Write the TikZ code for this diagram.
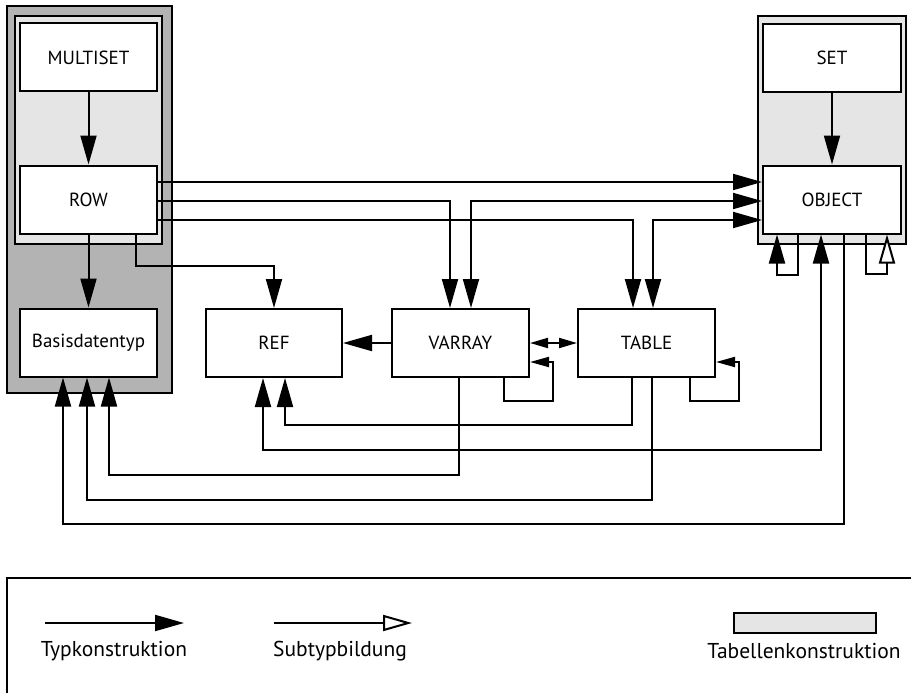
\documentclass[tikz,border=0pt]{standalone}
\usepackage{fontspec}
\setmainfont{PT Sans}
\usetikzlibrary{arrows.meta}

\definecolor{paneldark}{HTML}{B3B3B3}
\definecolor{panellight}{HTML}{E5E5E5}

\tikzset{
  typebox/.style={draw, fill=white, line width=2pt, minimum width=137pt,
    minimum height=68pt, inner sep=0pt, font=\fontsize{19}{22}\selectfont},
  panel/.style={draw, line width=2.4pt},
  conn/.style={line width=2pt},
  big/.style={conn, -{Triangle[length=29pt,width=16pt]}},
  bigboth/.style={conn, {Triangle[length=29pt,width=16pt]}-{Triangle[length=29pt,width=16pt]}},
  small/.style={conn, -{Triangle[length=19pt,width=10pt]}},
  smallboth/.style={conn, {Triangle[length=18pt,width=10pt]}-{Triangle[length=18pt,width=10pt]}},
  hollow/.style={conn, -{Triangle[length=29pt,width=16pt,fill=white]}},
  legendtext/.style={font=\fontsize{21.5}{24}\selectfont, inner sep=0pt}
}

\begin{document}
\begin{tikzpicture}[x=1pt, y=-1pt]
  \useasboundingbox (0,0) rectangle (911,693);

  % table construction panels
  \draw[panel, fill=paneldark] (7,6) rectangle (172,393);
  \draw[panel, fill=panellight] (15,16) rectangle (162,244);
  \draw[panel, fill=panellight] (758,16) rectangle (906,244);

  % type boxes
  \node[typebox] (multiset) at (88.5,57.5)  {MULTISET};
  \node[typebox] (row)      at (88.5,199.5) {ROW};
  \node[typebox] (basis)    at (88.5,342.5) {Basisdatentyp};
  \node[typebox, minimum width=136pt] (ref) at (274,343) {REF};
  \node[typebox] (varray)   at (460.5,343)  {VARRAY};
  \node[typebox] (table)    at (646.5,343)  {TABLE};
  \node[typebox, minimum width=138pt] (set)    at (832,58)    {SET};
  \node[typebox, minimum width=138pt] (object) at (832,199.5) {OBJECT};

  % construction arrows inside the panels
  \draw[big] (multiset) -- (row);
  \draw[big] (row) -- (basis);
  \draw[big] (set) -- (object);

  % ROW to the right-hand types
  \draw[big] (row.east |- 0,182) -- (object.west |- 0,182);
  \draw[big] (row.east |- 0,201) -| (varray.north -| 450,0);
  \draw[bigboth] (varray.north -| 471,0) |- (object.west |- 0,201);
  \draw[big] (row.east |- 0,220) -| (table.north -| 633,0);
  \draw[bigboth] (table.north -| 653,0) |- (object.west |- 0,220);
  \draw[big] (row.south -| 136,0) -- (136,266) -| (ref.north -| 274,0);

  % middle row
  \draw[big] (varray) -- (ref);
  \draw[smallboth] (varray) -- (table);
  \draw[small] (varray.south -| 504,0) -- (504,401) -| (553,362) -- (varray.east |- 0,362);
  \draw[small] (table.south -| 690,0) -- (690,401) -| (739,362) -- (table.east |- 0,362);

  % OBJECT self references
  \draw[big] (object.south -| 798,0) -- (798,275) -| (object.south -| 777,0);
  \draw[hollow] (object.south -| 866,0) -- (866,274) -| (object.south -| 887,0);

  % returns to REF
  \draw[big] (table.south -| 632,0) -- (632,425) -| (ref.south -| 285,0);
  \draw[bigboth] (object.south -| 821,0) -- (821,450) -| (ref.south -| 263,0);

  % returns to Basisdatentyp
  \draw[big] (varray.south -| 458.5,0) -- (458.5,475) -| (basis.south -| 109,0);
  \draw[big] (table.south -| 652,0) -- (652,500) -| (basis.south -| 87,0);
  \draw[big] (object.south -| 844,0) -- (844,524) -| (basis.south -| 63,0);

  % legend
  \draw[line width=2pt] (7,720) -- (7,578) -- (930,578);
  \coordinate (typA) at (45,623);
  \coordinate (typB) at (184,623);
  \coordinate (subA) at (274,623);
  \coordinate (subB) at (412,623);
  \draw[big] (typA) -- (typB);
  \draw[hollow] (subA) -- (subB);
  \node[draw, line width=1.5pt, fill=panellight, minimum width=142pt,
        minimum height=20pt, inner sep=0pt] (tabsample) at (805,623) {};
  \node[legendtext] (typlabel) at (114,651) {Typkonstruktion};
  \node[legendtext] (sublabel) at (340,651) {Subtypbildung};
  \node[legendtext] (tablabel) at (804,651) {Tabellenkonstruktion};
\end{tikzpicture}
\end{document}
